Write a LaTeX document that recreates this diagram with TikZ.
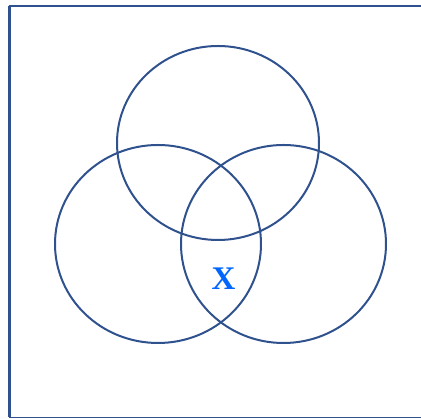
\documentclass[tikz,border=0pt]{standalone}
\usepackage{fontspec}
\newfontfamily\xfont{Liberation Serif}
\begin{document}
\begin{tikzpicture}[x=1pt,y=1pt,
  ring/.style={draw={rgb,255:red,47;green,82;blue,143},line width=2pt},
  frame/.style={draw={rgb,255:red,47;green,82;blue,143}}]
\useasboundingbox (0,0) rectangle (421,419);
\begin{scope}
\clip (0,0) rectangle (421,419);
\draw[frame,line width=2.5pt] (9.5,419-6.5) -- (9.5,419-417.5);
\draw[frame,line width=2pt] (8.5,419-6.5) -- (430,419-6.5);
\draw[frame,line width=1.2pt] (9,419-417.5) -- (430,419-417.5);
\end{scope}
\draw[ring] (218,419-143) ellipse [x radius=101, y radius=97];
\draw[ring] (158,419-244) ellipse [x radius=103, y radius=99];
\draw[ring] (283.5,419-244) ellipse [x radius=102.5, y radius=99];
\node[text={rgb,255:red,0;green,102;blue,255},font=\xfont\bfseries\fontsize{33}{36}\selectfont,inner sep=0pt] (x) at (223.5,419-278.5) {X};
\end{tikzpicture}
\end{document}
